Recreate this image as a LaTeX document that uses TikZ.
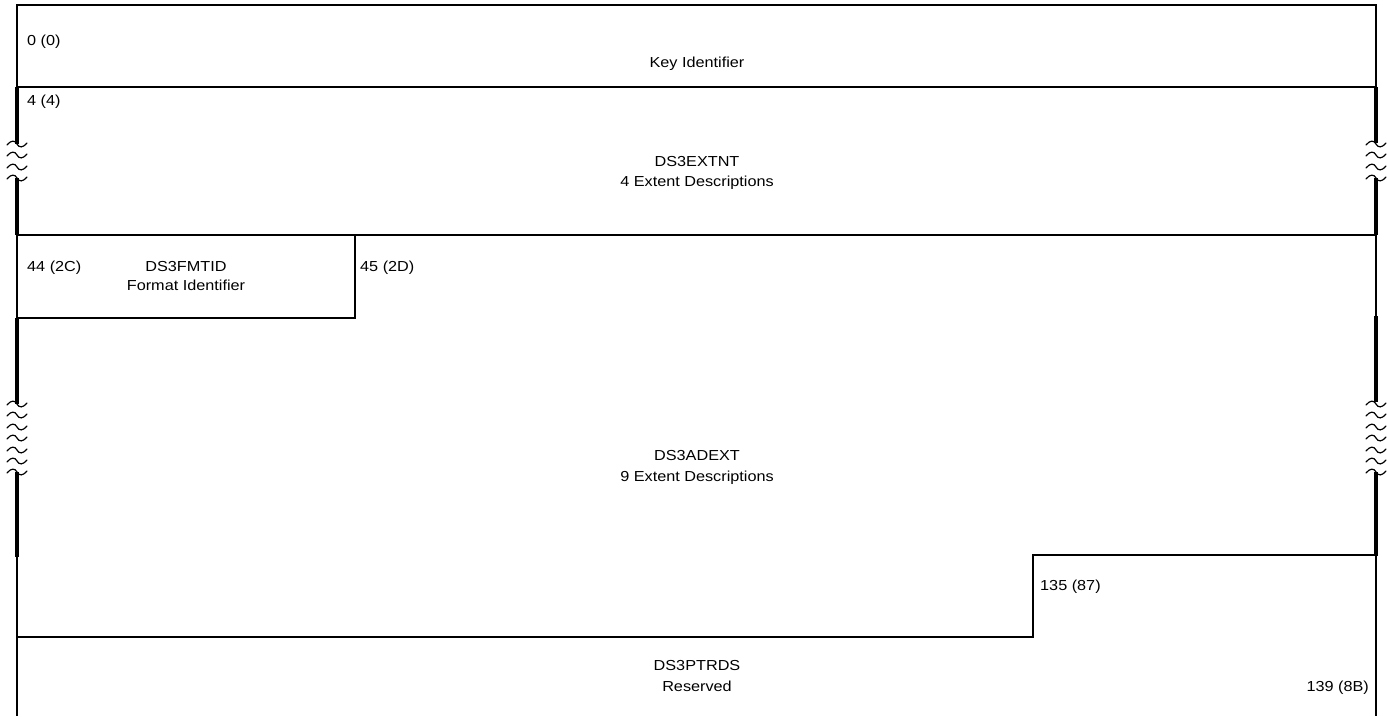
\documentclass[tikz,border=0pt]{standalone}
\usepackage{fontspec}
\setmainfont[FakeStretch=1.12]{Liberation Sans}
\begin{document}
\begin{tikzpicture}[x=1pt,y=-1pt,
  thinline/.style={line width=1.8pt},
  thickline/.style={line width=4.6pt},
  squigline/.style={line width=1.2pt, line cap=round},
  lbl/.style={inner sep=0pt, font=\fontsize{14.5pt}{16pt}\selectfont},
  squig/.pic={\draw[squigline] (-10,1) .. controls (-6,-4) and (-2,-4) .. (0,0) .. controls (2,4) and (6,4) .. (10,-1);}
]
\useasboundingbox (0,0) rectangle (1387,716);
% horizontal rules
\draw[thinline] (16,5) -- (1377,5);
\draw[thinline] (17,87) -- (1376,87);
\draw[thinline] (17,235) -- (1376,235);
\draw[thinline] (17,318) -- (355,318) -- (355,235);
\draw[thinline] (17,637) -- (1033,637) -- (1033,555) -- (1376,555);
% left edge thin parts
\draw[thinline] (17,4.1) -- (17,87);
\draw[thinline] (17,235) -- (17,318);
\draw[thinline] (17,556) -- (17,716);
% right edge thin parts
\draw[thinline] (1376,4.1) -- (1376,87);
\draw[thinline] (1376,235) -- (1376,316);
\draw[thinline] (1376,555) -- (1376,716);
% thick parts
\draw[thickline] (17,87) -- (17,144);
\draw[thickline] (17,178) -- (17,235);
\draw[thickline] (17,318) -- (17,404);
\draw[thickline] (17,472) -- (17,557);
\draw[thickline] (1376,87) -- (1376,143);
\draw[thickline] (1376,178) -- (1376,235);
\draw[thickline] (1376,316) -- (1376,402);
\draw[thickline] (1376,472) -- (1376,556);
% squiggles
\foreach \y in {144,155,167,178} {\pic at (17,\y) {squig}; \pic at (1376,\y) {squig};}
\foreach \y in {404,415,427,438,450,461,472} {\pic at (17,\y) {squig}; \pic at (1376,\y) {squig};}
% labels
\node[lbl, anchor=base west] (o0) at (27,45) {0 (0)};
\node[lbl, anchor=base] (key) at (697,67) {Key Identifier};
\node[lbl, anchor=base west] (o4) at (27,105) {4 (4)};
\node[lbl, anchor=base] (ext) at (697,166) {DS3EXTNT};
\node[lbl, anchor=base] (extd) at (697,186) {4 Extent Descriptions};
\node[lbl, anchor=base west] (o44) at (27,271) {44 (2C)};
\node[lbl, anchor=base] (fmt) at (186,271) {DS3FMTID};
\node[lbl, anchor=base] (fmtd) at (186,290) {Format Identifier};
\node[lbl, anchor=base west] (o45) at (360,271) {45 (2D)};
\node[lbl, anchor=base] (adx) at (697,460) {DS3ADEXT};
\node[lbl, anchor=base] (adxd) at (697,481) {9 Extent Descriptions};
\node[lbl, anchor=base west] (o135) at (1040,590) {135 (87)};
\node[lbl, anchor=base] (ptr) at (697,670) {DS3PTRDS};
\node[lbl, anchor=base] (ptrd) at (697,691) {Reserved};
\node[lbl, anchor=base east] (o139) at (1369,691) {139 (8B)};
\end{tikzpicture}
\end{document}
